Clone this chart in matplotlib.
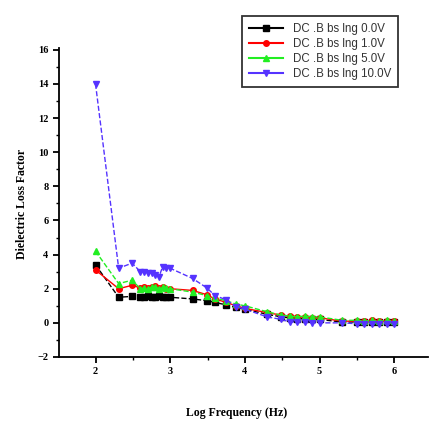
import matplotlib
matplotlib.use('Agg')
import matplotlib.pyplot as plt
from matplotlib.ticker import MultipleLocator

# log frequency (Hz)
logf = [2.0, 2.31, 2.49, 2.6, 2.65, 2.7, 2.75, 2.8, 2.85, 2.9, 2.95, 3.0,
        3.3, 3.49, 3.6, 3.75, 3.88, 4.0, 4.3, 4.49, 4.6, 4.7, 4.8, 4.9, 5.0,
        5.3, 5.5, 5.6, 5.7, 5.8, 5.9, 6.0]

v00 = [3.4, 1.5, 1.55, 1.5, 1.5, 1.55, 1.5, 1.5, 1.55, 1.5, 1.5, 1.5,
       1.4, 1.3, 1.2, 1.05, 0.9, 0.8, 0.5, 0.35, 0.3, 0.25, 0.25, 0.2, 0.2,
       0.05, 0.05, 0.05, 0.05, 0.05, 0.05, 0.05]
v10 = [3.1, 2.0, 2.2, 2.05, 2.1, 2.05, 2.1, 2.15, 2.05, 2.1, 2.0, 2.0,
       1.9, 1.65, 1.4, 1.2, 1.0, 0.85, 0.6, 0.45, 0.4, 0.35, 0.35, 0.3, 0.3,
       0.1, 0.1, 0.1, 0.15, 0.1, 0.1, 0.1]
v50 = [4.2, 2.3, 2.5, 2.0, 2.05, 2.0, 2.1, 2.1, 2.0, 2.1, 2.05, 2.0,
       1.8, 1.6, 1.45, 1.3, 1.1, 1.0, 0.65, 0.45, 0.4, 0.35, 0.4, 0.35, 0.35,
       0.15, 0.15, 0.1, 0.15, 0.1, 0.15, 0.1]
v100 = [14.0, 3.2, 3.5, 3.0, 3.0, 2.9, 2.95, 2.8, 2.7, 3.3, 3.2, 3.2,
        2.6, 2.05, 1.6, 1.35, 0.95, 0.8, 0.35, 0.2, 0.05, 0.05, 0.05, 0.0, 0.0,
        0.0, -0.05, -0.05, -0.05, -0.05, -0.05, -0.05]

labels = ['DC .B bs lng 0.0V', 'DC .B bs lng 1.0V',
          'DC .B bs lng 5.0V', 'DC .B bs lng 10.0V']

fig = plt.figure(figsize=(4.3, 4.25), dpi=100)
ax = fig.add_axes([0.137, 0.16, 0.858, 0.727])

ax.plot(logf, v00, color='black', marker='s', ms=4, lw=1, ls='--', label=labels[0])
ax.plot(logf, v10, color='red', marker='o', ms=4, lw=1, label=labels[1])
ax.plot(logf, v50, color='#22ee22', marker='^', ms=5, lw=1, ls='--', label=labels[2])
ax.plot(logf, v100, color='#5533ff', marker='v', ms=5, lw=1, ls='--', label=labels[3])

ax.set_xlim(1.51, 6.45)
ax.set_ylim(-2, 16.1)
ax.xaxis.set_major_locator(MultipleLocator(1))
ax.xaxis.set_minor_locator(MultipleLocator(0.5))
ax.yaxis.set_major_locator(MultipleLocator(2))
ax.yaxis.set_minor_locator(MultipleLocator(1))
for s in ['top', 'right']:
    ax.spines[s].set_visible(False)
for s in ['left', 'bottom']:
    ax.spines[s].set_linewidth(1.3)
ax.tick_params(which='major', direction='out', length=4, width=1.3,
               labelsize=7.5)
ax.tick_params(which='minor', direction='out', length=2, width=1)
for t in ax.get_xticklabels() + ax.get_yticklabels():
    t.set_fontfamily('Liberation Serif')
    t.set_fontweight('bold')

fig.text(0.052, 0.52, 'Dielectric Loss Factor', rotation=90, ha='center',
         va='center', fontsize=8.5, fontweight='bold', family='Liberation Serif')
fig.text(0.55, 0.028, 'Log Frequency (Hz)', ha='center', va='center',
         fontsize=8.5, fontweight='bold', family='Liberation Serif')

leg = fig.legend(loc='upper left', bbox_to_anchor=(0.549, 0.975), fontsize=8.3,
                 frameon=True, fancybox=False, edgecolor='black',
                 handlelength=3, borderpad=0.6, labelspacing=0.25,
                 prop={'family': 'Liberation Sans', 'size': 8.3})
leg.get_frame().set_linewidth(1.3)
for t in leg.get_texts():
    t.set_color('#333333')
for h in leg.legend_handles:
    h.set_linestyle('-')
    h.set_linewidth(1.5)

fig.savefig('out.png', dpi=100)
